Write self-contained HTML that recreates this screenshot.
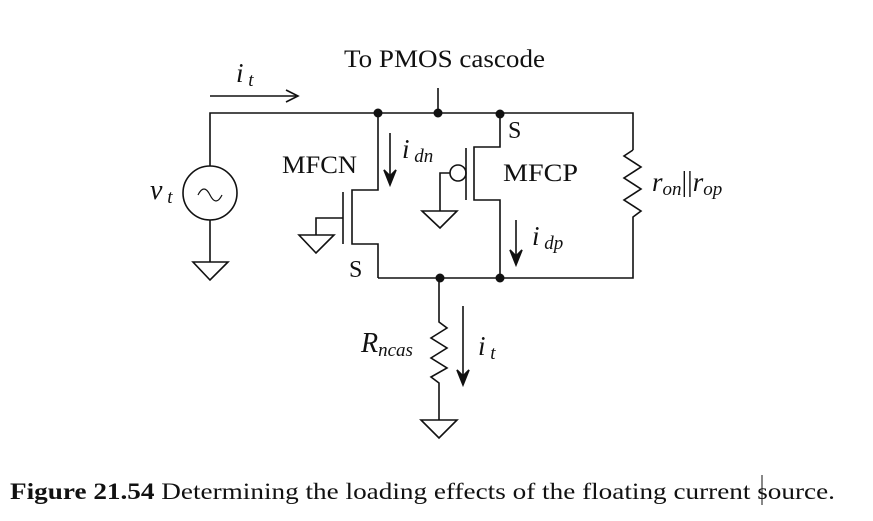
<!DOCTYPE html>
<html><head><style>
body{margin:0;background:#fff;width:873px;height:521px;overflow:hidden}
svg{display:block}
text{font-family:"Liberation Serif",serif;fill:#111}
</style></head><body>
<svg width="873" height="521" viewBox="0 0 873 521" stroke="#111" stroke-width="1.6" fill="none">
<polyline points="210,166 210,113 633,113 633,150"/>
<line x1="438" y1="88" x2="438" y2="113"/>
<polyline points="633,150 624,156 641,167 624,178 641,189 624,200 641,211 633,217 633,278 378,278"/>
<circle cx="210" cy="193" r="27"/>
<path d="M198,195 q6,-12 12,0 q6,12 12,0" stroke-width="1.2"/>
<line x1="210" y1="220" x2="210" y2="262"/>
<polygon points="193,262 228,262 210,280"/>
<line x1="210" y1="96" x2="296" y2="96"/>
<polyline points="286,90 298,96 286,102"/>
<polyline points="378,113 378,190 352,190 352,244 378,244 378,278"/>
<line x1="343" y1="192" x2="343" y2="244"/>
<polyline points="343,218 316,218 316,235"/>
<polygon points="299,235 334,235 316,253"/>
<polyline points="500,113 500,147 474,147 474,200 500,200 500,278"/>
<line x1="466" y1="148" x2="466" y2="200"/>
<circle cx="458" cy="173" r="8"/>
<polyline points="450,173 440,173 440,211"/>
<polygon points="422,211 457,211 440,228"/>
<polyline points="439,278 439,322 447,328 431,338 447,348 431,358 447,368 431,377 439,383 439,420"/>
<polygon points="421,420 457,420 439,438"/>
<line x1="390" y1="133" x2="390" y2="183"/>
<polygon points="384,170 390,185 396,170 390,176" fill="#111"/>
<line x1="516" y1="220" x2="516" y2="262"/>
<polygon points="510,250 516,265 522,250 516,256" fill="#111"/>
<line x1="463" y1="306" x2="463" y2="383"/>
<polygon points="457,370 463,385 469,370 463,376" fill="#111"/>
<g fill="#111" stroke="none">
<circle cx="378" cy="113" r="4.5"/><circle cx="438" cy="113" r="4.5"/><circle cx="500" cy="114" r="4.5"/>
<circle cx="440" cy="278" r="4.5"/><circle cx="500" cy="278" r="4.5"/>
</g>
<g stroke="none">
<text x="344" y="67" font-size="25" textLength="201" lengthAdjust="spacingAndGlyphs">To PMOS cascode</text>
<text x="236" y="82" font-size="27" font-style="italic">i<tspan font-size="19" dy="4"> t</tspan></text>
<text x="150" y="199" font-size="28" font-style="italic">v<tspan font-size="19" dy="4"> t</tspan></text>
<text x="282" y="173" font-size="25" textLength="75" lengthAdjust="spacingAndGlyphs">MFCN</text>
<text x="503" y="181" font-size="25" textLength="75" lengthAdjust="spacingAndGlyphs">MFCP</text>
<text x="508" y="138" font-size="24">S</text>
<text x="349" y="277" font-size="24">S</text>
<text x="402" y="158" font-size="27" font-style="italic">i<tspan font-size="19" dy="4"> dn</tspan></text>
<text x="532" y="245" font-size="27" font-style="italic">i<tspan font-size="19" dy="4"> dp</tspan></text>
<text x="652" y="191" font-size="27" font-style="italic">r<tspan font-size="19" dy="4">on</tspan><tspan dy="-4" font-style="normal" font-size="28">||</tspan>r<tspan font-size="19" dy="4">op</tspan></text>
<text x="361" y="352" font-size="28" font-style="italic">R<tspan font-size="19" dy="4">ncas</tspan></text>
<text x="478" y="355" font-size="27" font-style="italic">i<tspan font-size="19" dy="4"> t</tspan></text>
<text x="10" y="499" font-size="23" textLength="825" lengthAdjust="spacingAndGlyphs"><tspan font-weight="bold">Figure 21.54</tspan>  Determining the loading effects of the floating current source.</text>
</g>
<line x1="762" y1="475" x2="762" y2="505" stroke-width="1"/>
</svg>
</body></html>
